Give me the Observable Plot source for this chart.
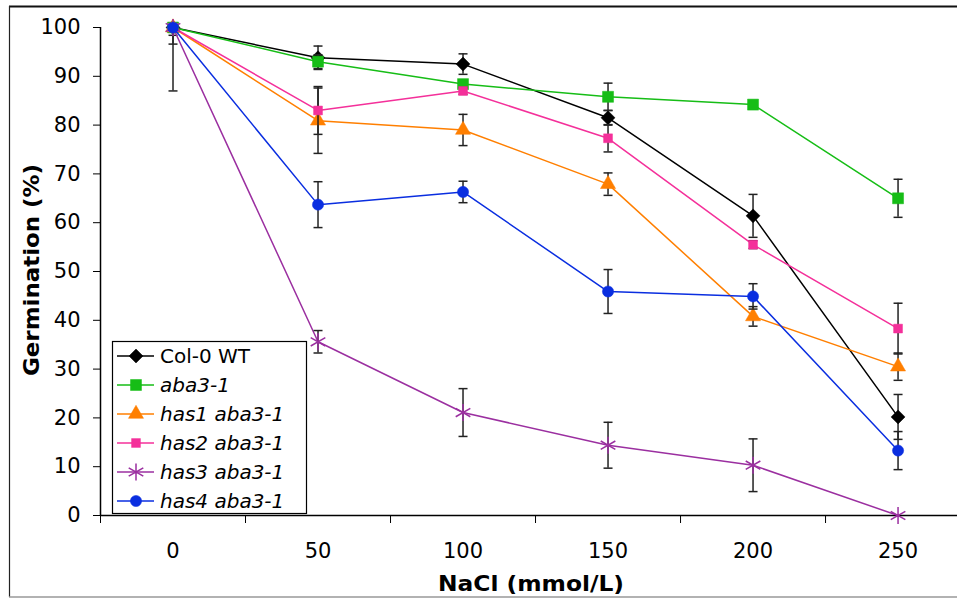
<!DOCTYPE html>
<html><head><meta charset="utf-8">
<script src="https://cdn.jsdelivr.net/npm/d3@7"></script>
<script src="https://cdn.jsdelivr.net/npm/@observablehq/plot@0.6"></script>
<style>body{margin:0;background:#fff;} #chart svg{display:block;}</style>
</head><body><div id="chart"></div>
<script>
// ---- data ----
const nacl = [0, 50, 100, 150, 200, 250];
const seriesNames = ["Col-0 WT", "aba3-1", "has1 aba3-1", "has2 aba3-1", "has3 aba3-1", "has4 aba3-1"];
const wt      = [100, 93.8, 92.5, 81.5, 61.4, 20.2];
const wtErr   = [1.6, 2.4, 2.1, 1.5, 4.4, 4.6];
const aba     = [100, 93.0, 88.4, 85.8, 84.2, 65.0];
const abaErr  = [0.5, 1.4, 0.8, 2.8, 0.4, 3.9];
const has1    = [100, 80.9, 79.0, 67.9, 40.8, 30.5];
const has1Err = [3.4, 6.7, 3.2, 2.3, 2.0, 2.8];
const has2    = [100, 83.0, 87.0, 77.3, 55.5, 38.3];
const has2Err = [0.5, 4.9, 0.7, 2.8, 0.8, 5.2];
const has3    = [100, 35.6, 21.1, 14.4, 10.3, 0];
const has3Err = [13.0, 2.3, 4.9, 4.7, 5.4, 0];
const has4    = [100, 63.7, 66.3, 45.9, 44.9, 13.3];
const has4Err = [0.5, 4.7, 2.2, 4.5, 2.6, 3.9];
const yTicks = [0, 10, 20, 30, 40, 50, 60, 70, 80, 90, 100];
const xBoundaries = [-25, 25, 75, 125, 175, 225];

// ---- styling ----
const values = [wt, aba, has1, has2, has3, has4];
const errors = [wtErr, abaErr, has1Err, has2Err, has3Err, has4Err];
const colors = ["#000000", "#16bd16", "#ff7f00", "#f4309a", "#9b2fa0", "#0a2ee0"];
const symbols = ["diamond2", "square", "triangle", "square", "asterisk", "circle"];
const d3symbols = [d3.symbolDiamond2, d3.symbolSquare, d3.symbolTriangle, d3.symbolSquare, d3.symbolAsterisk, d3.symbolCircle];
const radii = [6.3, 6.2, 5.6, 5.0, 8.0, 5.6];
const filled = [true, true, true, true, false, true];
const italic = [false, true, true, true, true, true];
const FONT = "'DejaVu Sans', Verdana, sans-serif";

const capSymbol = {draw(ctx, size) { const r = Math.sqrt(size / Math.PI); ctx.moveTo(-r, 0); ctx.lineTo(r, 0); }};

const rows = values.map((vals, i) => nacl.map((x, j) => ({
  series: seriesNames[i], x, y: vals[j],
  lo: Math.max(0, vals[j] - errors[i][j]), hi: Math.min(100, vals[j] + errors[i][j]), e: errors[i][j]
})));

const marks = [
  Plot.axisY(yTicks, {tickSize: 7, tickPadding: 13, label: null, fontSize: 21}),
  Plot.axisX(nacl, {tickSize: 0, tickPadding: 28, label: null, fontSize: 21}),
  Plot.axisX(xBoundaries, {tickSize: 8, tickFormat: () => "", label: null}),
  Plot.ruleY([0], {stroke: "#000", strokeWidth: 1.5}),
  Plot.ruleX([-25], {stroke: "#000", strokeWidth: 1.5})
];
rows.forEach((data, i) => {
  const eb = data.filter(d => d.e > 0);
  marks.push(Plot.line(data, {x: "x", y: "y", stroke: colors[i], strokeWidth: 1.5}));
  marks.push(Plot.ruleX(eb, {x: "x", y1: "lo", y2: "hi", stroke: "#222", strokeWidth: 1.5}));
  marks.push(Plot.dot(eb, {x: "x", y: "lo", symbol: capSymbol, r: 4.5, fill: "none", stroke: "#222", strokeWidth: 1.5}));
  marks.push(Plot.dot(eb, {x: "x", y: "hi", symbol: capSymbol, r: 4.5, fill: "none", stroke: "#222", strokeWidth: 1.5}));
  marks.push(Plot.dot(data, {x: "x", y: "y", symbol: symbols[i], r: radii[i],
    fill: filled[i] ? colors[i] : "none", stroke: colors[i], strokeWidth: filled[i] ? 0.5 : 1.5}));
});

const chart = Plot.plot({
  width: 957, height: 599,
  marginLeft: 100, marginRight: 0, marginTop: 27, marginBottom: 84,
  x: {type: "linear", domain: [-25, 270.5]},
  y: {domain: [0, 100]},
  style: {fontFamily: FONT, fontSize: "20px", background: "white", color: "black", overflow: "visible"},
  marks
});
document.getElementById("chart").appendChild(chart);

// ---- frame, titles, legend ----
const svg = d3.select(chart);
svg.append("line").attr("x1", 9).attr("x2", 957).attr("y1", 6.5).attr("y2", 6.5).attr("stroke", "#111").attr("stroke-width", 2);
svg.append("line").attr("x1", 9.5).attr("x2", 9.5).attr("y1", 6).attr("y2", 597).attr("stroke", "#222").attr("stroke-width", 1.2);
svg.append("line").attr("x1", 9).attr("x2", 957).attr("y1", 597).attr("y2", 597).attr("stroke", "#999").attr("stroke-width", 1.5);

svg.append("text").text("NaCl (mmol/L)").attr("x", 531).attr("y", 591)
  .attr("text-anchor", "middle").attr("font-weight", "bold").attr("font-size", 22).attr("font-family", FONT)
  .attr("textLength", 186).attr("lengthAdjust", "spacingAndGlyphs");
svg.append("text").text("Germination (%)").attr("transform", "translate(31,270) rotate(-90)")
  .attr("text-anchor", "middle").attr("dominant-baseline", "central")
  .attr("font-weight", "bold").attr("font-size", 22).attr("font-family", FONT)
  .attr("textLength", 212).attr("lengthAdjust", "spacingAndGlyphs");

const lg = svg.append("g");
lg.append("rect").attr("x", 112.5).attr("y", 341.5).attr("width", 194).attr("height", 172)
  .attr("fill", "white").attr("stroke", "#000").attr("stroke-width", 1.2);
seriesNames.forEach((name, i) => {
  const cy = 356 + i * 29;
  lg.append("line").attr("x1", 117).attr("x2", 154).attr("y1", cy).attr("y2", cy)
    .attr("stroke", colors[i]).attr("stroke-width", 1.5);
  lg.append("path").attr("transform", `translate(136,${cy})`)
    .attr("d", d3.symbol(d3symbols[i], Math.PI * radii[i] * radii[i])())
    .attr("fill", filled[i] ? colors[i] : "none").attr("stroke", colors[i]).attr("stroke-width", filled[i] ? 0.5 : 1.5);
  lg.append("text").text(name).attr("x", 160).attr("y", cy).attr("dominant-baseline", "central")
    .attr("text-anchor", "start")
    .attr("font-size", 20).attr("font-family", FONT).attr("font-style", italic[i] ? "italic" : "normal");
});
</script>
</body></html>
